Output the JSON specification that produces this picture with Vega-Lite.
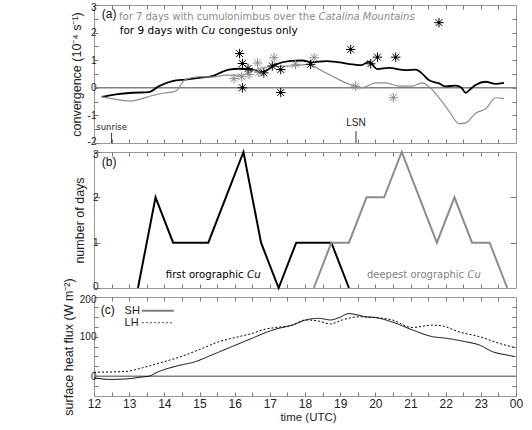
{
  "$schema": "https://vega.github.io/schema/vega-lite/v6.json",
  "padding": {"left": 61, "top": 1, "right": 5, "bottom": 5},
  "bounds": "flush",
  "spacing": 9,
  "config": {
    "view": {"stroke": "#9a9a9a", "strokeWidth": 1},
    "font": "Liberation Sans",
    "axis": {"domain": false, "grid": false, "tickColor": "#777777", "tickSize": -4, "labelFont": "Liberation Sans", "labelFontSize": 10, "labelColor": "#222222", "titleFont": "Liberation Sans", "titleFontSize": 12.5, "titleFontWeight": "normal", "titleColor": "#222222", "labelOverlap": false, "labelFlush": false},
    "axisY": {"labelFlush": true, "labelFlushOffset": 3}
  },
  "datasets": {
    "conv": [
      {"h": 12.22, "v": -0.33, "s": "Cu congestus"}, {"h": 12.62, "v": -0.24, "s": "Cu congestus"}, {"h": 13.09, "v": -0.18, "s": "Cu congestus"}, {"h": 13.56, "v": -0.16, "s": "Cu congestus"}, {"h": 13.85, "v": 0.06, "s": "Cu congestus"}, {"h": 14.23, "v": 0.24, "s": "Cu congestus"}, {"h": 14.6, "v": 0.3, "s": "Cu congestus"}, {"h": 14.99, "v": 0.36, "s": "Cu congestus"}, {"h": 15.36, "v": 0.42, "s": "Cu congestus"}, {"h": 15.65, "v": 0.58, "s": "Cu congestus"}, {"h": 15.84, "v": 0.66, "s": "Cu congestus"}, {"h": 16.12, "v": 0.69, "s": "Cu congestus"}, {"h": 16.5, "v": 0.65, "s": "Cu congestus"}, {"h": 16.8, "v": 0.58, "s": "Cu congestus"}, {"h": 17.17, "v": 0.85, "s": "Cu congestus"}, {"h": 17.55, "v": 0.97, "s": "Cu congestus"}, {"h": 17.92, "v": 0.99, "s": "Cu congestus"}, {"h": 18.2, "v": 0.92, "s": "Cu congestus"}, {"h": 18.6, "v": 0.97, "s": "Cu congestus"}, {"h": 18.97, "v": 0.92, "s": "Cu congestus"}, {"h": 19.35, "v": 0.85, "s": "Cu congestus"}, {"h": 19.6, "v": 0.82, "s": "Cu congestus"}, {"h": 19.82, "v": 0.95, "s": "Cu congestus"}, {"h": 20.05, "v": 0.68, "s": "Cu congestus"}, {"h": 20.39, "v": 0.72, "s": "Cu congestus"}, {"h": 20.86, "v": 0.64, "s": "Cu congestus"}, {"h": 21.15, "v": 0.66, "s": "Cu congestus"}, {"h": 21.3, "v": 0.55, "s": "Cu congestus"}, {"h": 21.52, "v": 0.28, "s": "Cu congestus"}, {"h": 21.81, "v": 0.16, "s": "Cu congestus"}, {"h": 22.0, "v": 0.05, "s": "Cu congestus"}, {"h": 22.28, "v": 0.08, "s": "Cu congestus"}, {"h": 22.45, "v": 0.0, "s": "Cu congestus"}, {"h": 22.57, "v": -0.18, "s": "Cu congestus"}, {"h": 22.7, "v": -0.05, "s": "Cu congestus"}, {"h": 22.85, "v": 0.1, "s": "Cu congestus"}, {"h": 23.14, "v": 0.22, "s": "Cu congestus"}, {"h": 23.42, "v": 0.14, "s": "Cu congestus"}, {"h": 23.66, "v": 0.18, "s": "Cu congestus"},
      {"h": 12.22, "v": -0.33, "s": "cumulonimbus"}, {"h": 12.62, "v": -0.42, "s": "cumulonimbus"}, {"h": 13.0, "v": -0.48, "s": "cumulonimbus"}, {"h": 13.28, "v": -0.42, "s": "cumulonimbus"}, {"h": 13.66, "v": -0.28, "s": "cumulonimbus"}, {"h": 14.04, "v": -0.18, "s": "cumulonimbus"}, {"h": 14.32, "v": -0.12, "s": "cumulonimbus"}, {"h": 14.6, "v": 0.3, "s": "cumulonimbus"}, {"h": 14.99, "v": 0.4, "s": "cumulonimbus"}, {"h": 15.36, "v": 0.39, "s": "cumulonimbus"}, {"h": 15.74, "v": 0.46, "s": "cumulonimbus"}, {"h": 16.2, "v": 0.46, "s": "cumulonimbus"}, {"h": 16.69, "v": 0.7, "s": "cumulonimbus"}, {"h": 17.26, "v": 0.78, "s": "cumulonimbus"}, {"h": 17.64, "v": 0.79, "s": "cumulonimbus"}, {"h": 18.1, "v": 0.85, "s": "cumulonimbus"}, {"h": 18.3, "v": 0.75, "s": "cumulonimbus"}, {"h": 18.5, "v": 0.6, "s": "cumulonimbus"}, {"h": 18.78, "v": 0.42, "s": "cumulonimbus"}, {"h": 19.16, "v": 0.18, "s": "cumulonimbus"}, {"h": 19.44, "v": 0.06, "s": "cumulonimbus"}, {"h": 19.63, "v": 0.0, "s": "cumulonimbus"}, {"h": 20.0, "v": 0.18, "s": "cumulonimbus"}, {"h": 20.3, "v": 0.18, "s": "cumulonimbus"}, {"h": 20.67, "v": 0.06, "s": "cumulonimbus"}, {"h": 21.05, "v": 0.06, "s": "cumulonimbus"}, {"h": 21.33, "v": 0.18, "s": "cumulonimbus"}, {"h": 21.52, "v": 0.05, "s": "cumulonimbus"}, {"h": 21.81, "v": -0.36, "s": "cumulonimbus"}, {"h": 22.1, "v": -0.85, "s": "cumulonimbus"}, {"h": 22.38, "v": -1.3, "s": "cumulonimbus"}, {"h": 22.57, "v": -1.27, "s": "cumulonimbus"}, {"h": 22.85, "v": -0.92, "s": "cumulonimbus"}, {"h": 23.14, "v": -0.76, "s": "cumulonimbus"}, {"h": 23.42, "v": -0.36, "s": "cumulonimbus"}, {"h": 23.66, "v": -0.39, "s": "cumulonimbus"}
    ],
    "stars": [
      {"h": 15.98, "v": 0.33, "s": "cumulonimbus"}, {"h": 16.2, "v": 0.4, "s": "cumulonimbus"}, {"h": 16.41, "v": 0.48, "s": "cumulonimbus"}, {"h": 16.65, "v": 0.9, "s": "cumulonimbus"}, {"h": 16.69, "v": 0.56, "s": "cumulonimbus"}, {"h": 17.12, "v": 1.09, "s": "cumulonimbus"}, {"h": 17.73, "v": 0.85, "s": "cumulonimbus"}, {"h": 18.26, "v": 1.09, "s": "cumulonimbus"}, {"h": 19.44, "v": 0.06, "s": "cumulonimbus"}, {"h": 20.51, "v": -0.36, "s": "cumulonimbus"},
      {"h": 16.14, "v": 1.24, "s": "Cu congestus"}, {"h": 16.22, "v": 0.88, "s": "Cu congestus"}, {"h": 16.38, "v": 0.7, "s": "Cu congestus"}, {"h": 16.22, "v": 0.0, "s": "Cu congestus"}, {"h": 16.83, "v": 0.54, "s": "Cu congestus"}, {"h": 17.07, "v": 0.79, "s": "Cu congestus"}, {"h": 17.31, "v": 0.66, "s": "Cu congestus"}, {"h": 17.31, "v": -0.17, "s": "Cu congestus"}, {"h": 18.16, "v": 0.85, "s": "Cu congestus"}, {"h": 19.3, "v": 1.39, "s": "Cu congestus"}, {"h": 19.87, "v": 0.87, "s": "Cu congestus"}, {"h": 20.06, "v": 1.11, "s": "Cu congestus"}, {"h": 20.58, "v": 1.11, "s": "Cu congestus"}, {"h": 21.81, "v": 2.36, "s": "Cu congestus"}
    ],
    "days": [
      {"h": 13.25, "n": 0, "s": "first"}, {"h": 13.75, "n": 2, "s": "first"}, {"h": 14.25, "n": 1, "s": "first"}, {"h": 14.75, "n": 1, "s": "first"}, {"h": 15.25, "n": 1, "s": "first"}, {"h": 15.75, "n": 2, "s": "first"}, {"h": 16.25, "n": 3, "s": "first"}, {"h": 16.75, "n": 1, "s": "first"}, {"h": 17.25, "n": 0, "s": "first"}, {"h": 17.75, "n": 1, "s": "first"}, {"h": 18.25, "n": 1, "s": "first"}, {"h": 18.75, "n": 1, "s": "first"}, {"h": 19.25, "n": 0, "s": "first"},
      {"h": 18.25, "n": 0, "s": "deepest"}, {"h": 18.75, "n": 1, "s": "deepest"}, {"h": 19.25, "n": 1, "s": "deepest"}, {"h": 19.75, "n": 2, "s": "deepest"}, {"h": 20.25, "n": 2, "s": "deepest"}, {"h": 20.75, "n": 3, "s": "deepest"}, {"h": 21.25, "n": 2, "s": "deepest"}, {"h": 21.75, "n": 1, "s": "deepest"}, {"h": 22.25, "n": 2, "s": "deepest"}, {"h": 22.75, "n": 1, "s": "deepest"}, {"h": 23.25, "n": 1, "s": "deepest"}, {"h": 23.75, "n": 0, "s": "deepest"}
    ],
    "flux": [
      {"h": 12.0, "f": -4, "s": "SH"}, {"h": 12.43, "f": -8, "s": "SH"}, {"h": 12.9, "f": -7, "s": "SH"}, {"h": 13.37, "f": -2, "s": "SH"}, {"h": 13.56, "f": 0, "s": "SH"}, {"h": 13.85, "f": 12, "s": "SH"}, {"h": 14.32, "f": 25, "s": "SH"}, {"h": 14.89, "f": 37, "s": "SH"}, {"h": 15.36, "f": 54, "s": "SH"}, {"h": 15.93, "f": 75, "s": "SH"}, {"h": 16.5, "f": 96, "s": "SH"}, {"h": 16.88, "f": 110, "s": "SH"}, {"h": 17.17, "f": 119, "s": "SH"}, {"h": 17.64, "f": 129, "s": "SH"}, {"h": 18.02, "f": 142, "s": "SH"}, {"h": 18.4, "f": 146, "s": "SH"}, {"h": 18.73, "f": 142, "s": "SH"}, {"h": 18.97, "f": 148, "s": "SH"}, {"h": 19.25, "f": 158, "s": "SH"}, {"h": 19.53, "f": 154, "s": "SH"}, {"h": 19.72, "f": 150, "s": "SH"}, {"h": 20.01, "f": 148, "s": "SH"}, {"h": 20.48, "f": 137, "s": "SH"}, {"h": 21.05, "f": 117, "s": "SH"}, {"h": 21.62, "f": 100, "s": "SH"}, {"h": 22.0, "f": 96, "s": "SH"}, {"h": 22.57, "f": 87, "s": "SH"}, {"h": 22.95, "f": 79, "s": "SH"}, {"h": 23.33, "f": 62, "s": "SH"}, {"h": 23.71, "f": 54, "s": "SH"}, {"h": 23.94, "f": 50, "s": "SH"},
      {"h": 12.0, "f": 10, "s": "LH"}, {"h": 12.9, "f": 12, "s": "LH"}, {"h": 13.37, "f": 21, "s": "LH"}, {"h": 13.85, "f": 33, "s": "LH"}, {"h": 14.42, "f": 48, "s": "LH"}, {"h": 14.99, "f": 67, "s": "LH"}, {"h": 15.55, "f": 87, "s": "LH"}, {"h": 16.03, "f": 98, "s": "LH"}, {"h": 16.5, "f": 108, "s": "LH"}, {"h": 16.88, "f": 119, "s": "LH"}, {"h": 17.17, "f": 123, "s": "LH"}, {"h": 17.64, "f": 129, "s": "LH"}, {"h": 18.02, "f": 142, "s": "LH"}, {"h": 18.4, "f": 139, "s": "LH"}, {"h": 18.73, "f": 132, "s": "LH"}, {"h": 19.06, "f": 142, "s": "LH"}, {"h": 19.53, "f": 150, "s": "LH"}, {"h": 20.01, "f": 148, "s": "LH"}, {"h": 20.48, "f": 142, "s": "LH"}, {"h": 21.05, "f": 123, "s": "LH"}, {"h": 21.62, "f": 129, "s": "LH"}, {"h": 21.9, "f": 127, "s": "LH"}, {"h": 22.38, "f": 112, "s": "LH"}, {"h": 22.95, "f": 100, "s": "LH"}, {"h": 23.52, "f": 83, "s": "LH"}, {"h": 23.94, "f": 73, "s": "LH"}
    ]
  },
  "vconcat": [
    {
      "width": 422, "height": 138,
      "data": {"values": [{}]},
      "resolve": {"axis": {"x": "independent", "y": "independent"}},
      "layer": [
        {
          "mark": {"type": "rule", "color": "#808080", "strokeWidth": 1.5},
          "encoding": {"y": {"datum": 0, "type": "quantitative", "axis": null}}
        },
        {
          "data": {"name": "conv"},
          "mark": {"type": "line", "interpolate": "monotone"},
          "encoding": {
            "x": {"field": "h", "type": "quantitative", "scale": {"domain": [12, 24], "nice": false, "zero": false}, "axis": {"orient": "bottom", "title": null, "labels": false, "values": [12.5, 13, 13.5, 14, 14.5, 15, 15.5, 16, 16.5, 17, 17.5, 18, 18.5, 19, 19.5, 20, 20.5, 21, 21.5, 22, 22.5, 23, 23.5]}},
            "y": {"field": "v", "type": "quantitative", "scale": {"domain": [-2, 3], "nice": false, "zero": false}, "axis": {"orient": "left", "title": "convergence (10⁻⁴ s⁻¹)", "titlePadding": 4, "values": [-2, -1.5, -1, -0.5, 0, 0.5, 1, 1.5, 2, 2.5, 3], "labelExpr": "datum.value % 1 == 0 ? '' + datum.value : ''"}},
            "color": {"field": "s", "type": "nominal", "scale": {"domain": ["Cu congestus", "cumulonimbus"], "range": ["#000000", "#8c8c8c"]}, "legend": null},
            "strokeWidth": {"field": "s", "type": "nominal", "scale": {"domain": ["Cu congestus", "cumulonimbus"], "range": [1.8, 1.2]}, "legend": null}
          }
        },
        {
          "data": {"name": "stars"},
          "mark": {"type": "point", "shape": "M-1,0L1,0M0,-1L0,1M-0.72,-0.72L0.72,0.72M-0.72,0.72L0.72,-0.72", "filled": false, "size": 90, "strokeWidth": 1, "opacity": 1},
          "encoding": {
            "x": {"field": "h", "type": "quantitative", "axis": null},
            "y": {"field": "v", "type": "quantitative", "axis": null},
            "color": {"field": "s", "type": "nominal", "scale": {"domain": ["Cu congestus", "cumulonimbus"], "range": ["#000000", "#a0a0a0"]}, "legend": null}
          }
        },
        {
          "data": {"name": "stars"},
          "transform": [{"filter": "datum.s == 'Cu congestus'"}],
          "mark": {"type": "point", "filled": true, "size": 8, "color": "#000000", "opacity": 1},
          "encoding": {
            "x": {"field": "h", "type": "quantitative", "axis": null},
            "y": {"field": "v", "type": "quantitative", "axis": null}
          }
        },
        {
          "mark": {"type": "rule", "color": "#333333", "strokeWidth": 1},
          "encoding": {
            "x": {"datum": 12.5, "type": "quantitative", "axis": null},
            "y": {"datum": -2, "type": "quantitative", "axis": null},
            "y2": {"datum": -1.63}
          }
        },
        {
          "mark": {"type": "rule", "color": "#333333", "strokeWidth": 1},
          "encoding": {
            "x": {"datum": 19.45, "type": "quantitative", "axis": null},
            "y": {"datum": -2, "type": "quantitative", "axis": null},
            "y2": {"datum": -1.57}
          }
        },
        {
          "mark": {"type": "text", "font": "DejaVu Sans", "fontSize": 8.5, "align": "center", "baseline": "middle", "color": "#222222"},
          "encoding": {"x": {"datum": 12.5, "type": "quantitative", "axis": null}, "y": {"datum": -1.41, "type": "quantitative", "axis": null}, "text": {"value": "sunrise"}}
        },
        {
          "mark": {"type": "text", "font": "Liberation Sans", "fontSize": 10, "align": "center", "baseline": "middle", "color": "#222222"},
          "encoding": {"x": {"datum": 19.45, "type": "quantitative", "axis": null}, "y": {"datum": -1.27, "type": "quantitative", "axis": null}, "text": {"value": "LSN"}}
        },
        {
          "mark": {"type": "text", "font": "Liberation Sans", "fontSize": 12, "align": "left", "baseline": "middle", "color": "#111111"},
          "encoding": {"x": {"datum": 12.22, "type": "quantitative", "axis": null}, "y": {"datum": 2.66, "type": "quantitative", "axis": null}, "text": {"value": "(a)"}}
        },
        {
          "mark": {"type": "text", "font": "DejaVu Sans", "fontSize": 10, "align": "left", "baseline": "middle", "color": "#8a8a8a"},
          "encoding": {"x": {"datum": 12.711, "type": "quantitative", "axis": null}, "y": {"datum": 2.57, "type": "quantitative", "axis": null}, "text": {"value": "for 7 days with cumulonimbus over the"}}
        },
        {
          "mark": {"type": "text", "font": "DejaVu Sans", "fontSize": 10, "fontStyle": "italic", "align": "left", "baseline": "middle", "color": "#8a8a8a"},
          "encoding": {"x": {"datum": 18.383, "type": "quantitative", "axis": null}, "y": {"datum": 2.57, "type": "quantitative", "axis": null}, "text": {"value": "Catalina Mountains"}}
        },
        {
          "mark": {"type": "text", "font": "DejaVu Sans", "fontSize": 10.5, "align": "left", "baseline": "middle", "color": "#000000"},
          "encoding": {"x": {"datum": 12.731, "type": "quantitative", "axis": null}, "y": {"datum": 2.07, "type": "quantitative", "axis": null}, "text": {"value": "for 9 days with"}}
        },
        {
          "mark": {"type": "text", "font": "DejaVu Sans", "fontSize": 10.5, "fontStyle": "italic", "align": "left", "baseline": "middle", "color": "#000000"},
          "encoding": {"x": {"datum": 15.048, "type": "quantitative", "axis": null}, "y": {"datum": 2.07, "type": "quantitative", "axis": null}, "text": {"value": "Cu"}}
        },
        {
          "mark": {"type": "text", "font": "DejaVu Sans", "fontSize": 10.5, "align": "left", "baseline": "middle", "color": "#000000"},
          "encoding": {"x": {"datum": 15.54, "type": "quantitative", "axis": null}, "y": {"datum": 2.07, "type": "quantitative", "axis": null}, "text": {"value": "congestus only"}}
        },
        {
          "data": {"values": [{"h": 12, "v": -2}, {"h": 24, "v": 3}]},
          "mark": {"type": "point", "opacity": 0},
          "encoding": {
            "x": {"field": "h", "type": "quantitative", "axis": {"orient": "top", "title": null, "labels": false, "values": [12.5, 13, 13.5, 14, 14.5, 15, 15.5, 16, 16.5, 17, 17.5, 18, 18.5, 19, 19.5, 20, 20.5, 21, 21.5, 22, 22.5, 23, 23.5]}},
            "y": {"field": "v", "type": "quantitative", "axis": {"orient": "right", "title": null, "labels": false, "values": [-1.5, -1, -0.5, 0, 0.5, 1, 1.5, 2, 2.5]}}
          }
        }
      ]
    },
    {
      "width": 422, "height": 136,
      "data": {"values": [{}]},
      "resolve": {"axis": {"x": "independent", "y": "independent"}},
      "layer": [
        {
          "data": {"name": "days"},
          "mark": {"type": "line", "strokeWidth": 2},
          "encoding": {
            "x": {"field": "h", "type": "quantitative", "scale": {"domain": [12, 24], "nice": false, "zero": false}, "axis": {"orient": "bottom", "title": null, "labels": false, "values": [12.5, 13, 13.5, 14, 14.5, 15, 15.5, 16, 16.5, 17, 17.5, 18, 18.5, 19, 19.5, 20, 20.5, 21, 21.5, 22, 22.5, 23, 23.5]}},
            "y": {"field": "n", "type": "quantitative", "scale": {"domain": [0, 3], "nice": false}, "axis": {"orient": "left", "title": "number of days", "titlePadding": 6, "values": [0, 1, 2, 3], "tickSize": -6}},
            "color": {"field": "s", "type": "nominal", "scale": {"domain": ["first", "deepest"], "range": ["#000000", "#7f7f7f"]}, "legend": null}
          }
        },
        {
          "mark": {"type": "text", "font": "Liberation Sans", "fontSize": 12, "align": "left", "baseline": "middle", "color": "#111111"},
          "encoding": {"x": {"datum": 12.22, "type": "quantitative", "axis": null}, "y": {"datum": 2.78, "type": "quantitative", "axis": null}, "text": {"value": "(b)"}}
        },
        {
          "mark": {"type": "text", "font": "DejaVu Sans", "fontSize": 10.2, "align": "left", "baseline": "middle", "color": "#000000"},
          "encoding": {"x": {"datum": 14.04, "type": "quantitative", "axis": null}, "y": {"datum": 0.29, "type": "quantitative", "axis": null}, "text": {"value": "first orographic"}}
        },
        {
          "mark": {"type": "text", "font": "DejaVu Sans", "fontSize": 10.2, "fontStyle": "italic", "align": "left", "baseline": "middle", "color": "#000000"},
          "encoding": {"x": {"datum": 16.353, "type": "quantitative", "axis": null}, "y": {"datum": 0.29, "type": "quantitative", "axis": null}, "text": {"value": "Cu"}}
        },
        {
          "mark": {"type": "text", "font": "DejaVu Sans", "fontSize": 10, "align": "left", "baseline": "middle", "color": "#7f7f7f"},
          "encoding": {"x": {"datum": 19.762, "type": "quantitative", "axis": null}, "y": {"datum": 0.29, "type": "quantitative", "axis": null}, "text": {"value": "deepest orographic"}}
        },
        {
          "mark": {"type": "text", "font": "DejaVu Sans", "fontSize": 10, "fontStyle": "italic", "align": "left", "baseline": "middle", "color": "#7f7f7f"},
          "encoding": {"x": {"datum": 22.622, "type": "quantitative", "axis": null}, "y": {"datum": 0.29, "type": "quantitative", "axis": null}, "text": {"value": "Cu"}}
        },
        {
          "data": {"values": [{"h": 12, "n": 0}, {"h": 24, "n": 3}]},
          "mark": {"type": "point", "opacity": 0},
          "encoding": {
            "x": {"field": "h", "type": "quantitative", "axis": {"orient": "top", "title": null, "labels": false, "values": [12.5, 13, 13.5, 14, 14.5, 15, 15.5, 16, 16.5, 17, 17.5, 18, 18.5, 19, 19.5, 20, 20.5, 21, 21.5, 22, 22.5, 23, 23.5]}},
            "y": {"field": "n", "type": "quantitative", "axis": {"orient": "right", "title": null, "labels": false, "values": [1, 2], "tickSize": -6}}
          }
        }
      ]
    },
    {
      "width": 422, "height": 99,
      "data": {"values": [{}]},
      "resolve": {"axis": {"x": "independent", "y": "independent"}},
      "layer": [
        {
          "mark": {"type": "rule", "color": "#808080", "strokeWidth": 1.5},
          "encoding": {"y": {"datum": 0, "type": "quantitative", "axis": null}}
        },
        {
          "data": {"name": "flux"},
          "mark": {"type": "line", "strokeWidth": 1, "color": "#000000", "interpolate": "monotone"},
          "encoding": {
            "x": {"field": "h", "type": "quantitative", "scale": {"domain": [12, 24], "nice": false, "zero": false}, "axis": {"orient": "bottom", "title": "time (UTC)", "titleFontSize": 11.5, "titlePadding": 2, "titleX": 214, "labelFontSize": 12, "labelPadding": 6, "values": [12, 12.5, 13, 13.5, 14, 14.5, 15, 15.5, 16, 16.5, 17, 17.5, 18, 18.5, 19, 19.5, 20, 20.5, 21, 21.5, 22, 22.5, 23, 23.5, 24], "labelExpr": "datum.value % 1 == 0 ? (datum.value == 24 ? '00' : '' + datum.value) : ''"}},
            "y": {"field": "f", "type": "quantitative", "scale": {"domain": [-50, 200], "nice": false, "zero": false}, "axis": {"orient": "left", "title": "surface heat flux (W m⁻²)", "titlePadding": 4, "values": [-25, 0, 25, 50, 75, 100, 125, 150, 175, 200], "labelExpr": "datum.value % 100 == 0 ? '' + datum.value : ''"}},
            "strokeDash": {"field": "s", "type": "nominal", "scale": {"domain": ["SH", "LH"], "range": [[1, 0], [2, 2]]}, "legend": null}
          }
        },
        {
          "mark": {"type": "text", "font": "Liberation Sans", "fontSize": 12, "align": "left", "baseline": "middle", "color": "#111111"},
          "encoding": {"x": {"datum": 12.19, "type": "quantitative", "axis": null}, "y": {"datum": 168, "type": "quantitative", "axis": null}, "text": {"value": "(c)"}}
        },
        {
          "mark": {"type": "text", "font": "Liberation Sans", "fontSize": 11, "align": "left", "baseline": "middle", "color": "#222222"},
          "encoding": {"x": {"datum": 12.87, "type": "quantitative", "axis": null}, "y": {"datum": 165, "type": "quantitative", "axis": null}, "text": {"value": "SH"}}
        },
        {
          "mark": {"type": "text", "font": "Liberation Sans", "fontSize": 11, "align": "left", "baseline": "middle", "color": "#222222"},
          "encoding": {"x": {"datum": 12.87, "type": "quantitative", "axis": null}, "y": {"datum": 135, "type": "quantitative", "axis": null}, "text": {"value": "LH"}}
        },
        {
          "mark": {"type": "rule", "color": "#808080", "strokeWidth": 2},
          "encoding": {"x": {"datum": 13.36, "type": "quantitative", "axis": null}, "x2": {"datum": 14.27}, "y": {"datum": 165, "type": "quantitative", "axis": null}}
        },
        {
          "mark": {"type": "rule", "color": "#444444", "strokeWidth": 1, "strokeDash": [2, 2]},
          "encoding": {"x": {"datum": 13.36, "type": "quantitative", "axis": null}, "x2": {"datum": 14.27}, "y": {"datum": 135, "type": "quantitative", "axis": null}}
        },
        {
          "data": {"values": [{"h": 12, "f": -50}, {"h": 24, "f": 200}]},
          "mark": {"type": "point", "opacity": 0},
          "encoding": {
            "x": {"field": "h", "type": "quantitative", "axis": {"orient": "top", "title": null, "labels": false, "values": [12.5, 13, 13.5, 14, 14.5, 15, 15.5, 16, 16.5, 17, 17.5, 18, 18.5, 19, 19.5, 20, 20.5, 21, 21.5, 22, 22.5, 23, 23.5]}},
            "y": {"field": "f", "type": "quantitative", "axis": {"orient": "right", "title": null, "labels": false, "values": [-25, 0, 25, 50, 75, 100, 125, 150, 175]}}
          }
        }
      ]
    }
  ]
}
